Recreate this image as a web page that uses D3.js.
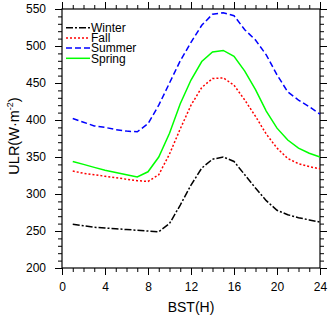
<!DOCTYPE html>
<html>

<head>
    <meta charset="UTF-8">
    <title>ULR diurnal cycle</title>
    <script src="https://d3js.org/d3.v7.min.js"></script>
    <style>
        body {
            margin: 0;
            background: #fff;
        }

        text {
            font-family: "Liberation Sans", Arial, Helvetica, sans-serif;
        }
    </style>
</head>

<body>
    <script>
        // hours (BST)
        var hours = [1, 2, 3, 4, 5, 6, 7, 8, 9, 10, 11, 12, 13, 14, 15, 16, 17, 18, 19, 20, 21, 22, 23, 24];

        var winter = [259, 257, 255, 254, 253, 252, 251, 250, 249, 260, 285, 312, 335, 347, 350, 344, 326, 308, 291, 278, 272, 268, 265, 262];
        var fall = [331, 328, 326, 324, 322, 320, 318, 317, 326, 354, 388, 420, 444, 456, 457, 447, 427, 405, 381, 362, 348, 341, 337, 334];
        var summer = [402, 397, 392, 390, 387, 385, 384, 395, 420, 450, 480, 505, 528, 543, 545, 541, 522, 508, 488, 461, 438, 427, 418, 408];
        var spring = [344, 340, 336, 332, 329, 326, 323, 330, 350, 382, 422, 454, 479, 492, 494, 486, 466, 441, 412, 389, 373, 362, 355, 350];

        var seriesNames = ["Winter", "Fall", "Summer", "Spring"];
        var xTicks = [0, 4, 8, 12, 16, 20, 24];
        var yTicks = [200, 250, 300, 350, 400, 450, 500, 550];

        var width = 330;
        var height = 318;
        var mLeft = 62, mTop = 9, plotW = 258, plotH = 259; // plot box

        var styles = {
            Winter: { color: "#000000", dash: "7,2,2,2" },
            Fall: { color: "#ff0000", dash: "2,2" },
            Summer: { color: "#0000ff", dash: "6,3" },
            Spring: { color: "#00ff00", dash: null }
        };
        var data = { Winter: winter, Fall: fall, Summer: summer, Spring: spring };

        var svg = d3.select("body").append("svg")
            .attr("width", width).attr("height", height);

        var x = d3.scaleLinear().domain([0, 24]).range([mLeft, mLeft + plotW]);
        var y = d3.scaleLinear().domain([200, 550]).range([mTop + plotH, mTop]);

        // minor ticks
        var xMinor = d3.range(0, 25, 1);
        var yMinor = d3.range(200, 551, 10);

        function axisStyle(g) {
            g.select(".domain").remove();
            g.selectAll("line").attr("stroke", "#000").attr("stroke-width", 1);
            g.selectAll("text").attr("font-size", 12).attr("fill", "#000");
        }

        // bottom
        svg.append("g").attr("transform", "translate(0," + (mTop + plotH) + ")")
            .call(d3.axisBottom(x).tickValues(xMinor).tickSize(4).tickFormat(""))
            .call(axisStyle);
        svg.append("g").attr("transform", "translate(0," + (mTop + plotH) + ")")
            .call(d3.axisBottom(x).tickValues(xTicks).tickSize(7).tickPadding(7).tickFormat(d3.format("d")))
            .call(axisStyle);
        // top
        svg.append("g").attr("transform", "translate(0," + mTop + ")")
            .call(d3.axisTop(x).tickValues(xMinor).tickSize(4).tickFormat(""))
            .call(axisStyle);
        svg.append("g").attr("transform", "translate(0," + mTop + ")")
            .call(d3.axisTop(x).tickValues(xTicks).tickSize(7).tickFormat(""))
            .call(axisStyle);
        // left
        svg.append("g").attr("transform", "translate(" + mLeft + ",0)")
            .call(d3.axisLeft(y).tickValues(yMinor).tickSize(4).tickFormat(""))
            .call(axisStyle);
        svg.append("g").attr("transform", "translate(" + mLeft + ",0)")
            .call(d3.axisLeft(y).tickValues(yTicks).tickSize(7).tickPadding(9).tickFormat(d3.format("d")))
            .call(axisStyle);
        // right
        svg.append("g").attr("transform", "translate(" + (mLeft + plotW) + ",0)")
            .call(d3.axisRight(y).tickValues(yMinor).tickSize(4).tickFormat(""))
            .call(axisStyle);
        svg.append("g").attr("transform", "translate(" + (mLeft + plotW) + ",0)")
            .call(d3.axisRight(y).tickValues(yTicks).tickSize(7).tickFormat(""))
            .call(axisStyle);

        // frame
        svg.append("rect")
            .attr("x", mLeft).attr("y", mTop).attr("width", plotW).attr("height", plotH)
            .attr("fill", "none").attr("stroke", "#000").attr("stroke-width", 1.2);

        // lines
        var line = d3.line().x(function (d, i) { return x(hours[i]); }).y(function (d) { return y(d); });
        seriesNames.forEach(function (name) {
            svg.append("path")
                .datum(data[name])
                .attr("d", line)
                .attr("fill", "none")
                .attr("stroke", styles[name].color)
                .attr("stroke-width", 1.5)
                .attr("stroke-dasharray", styles[name].dash);
        });

        // legend
        var legend = svg.append("g");
        seriesNames.forEach(function (name, i) {
            var ly = 27.7 + i * 10.2;
            legend.append("line")
                .attr("x1", 66).attr("x2", 90).attr("y1", ly).attr("y2", ly)
                .attr("stroke", styles[name].color).attr("stroke-width", 1.5)
                .attr("stroke-dasharray", styles[name].dash);
            legend.append("text")
                .attr("x", 91).attr("y", ly + 4.2)
                .attr("font-size", 12)
                .text(name);
        });

        // axis titles
        svg.append("text")
            .attr("x", mLeft + plotW / 2).attr("y", 312)
            .attr("text-anchor", "middle").attr("font-size", 14)
            .text("BST(H)");

        var yl = svg.append("text")
            .attr("transform", "translate(19," + 136 + ") rotate(-90)")
            .attr("text-anchor", "middle").attr("font-size", 14.5);
        yl.append("tspan").text("ULR(W\u00b7m");
        yl.append("tspan").attr("font-size", 9).attr("dy", -6).text("-2");
        yl.append("tspan").attr("dy", 6).text(")");
    </script>
</body>

</html>
